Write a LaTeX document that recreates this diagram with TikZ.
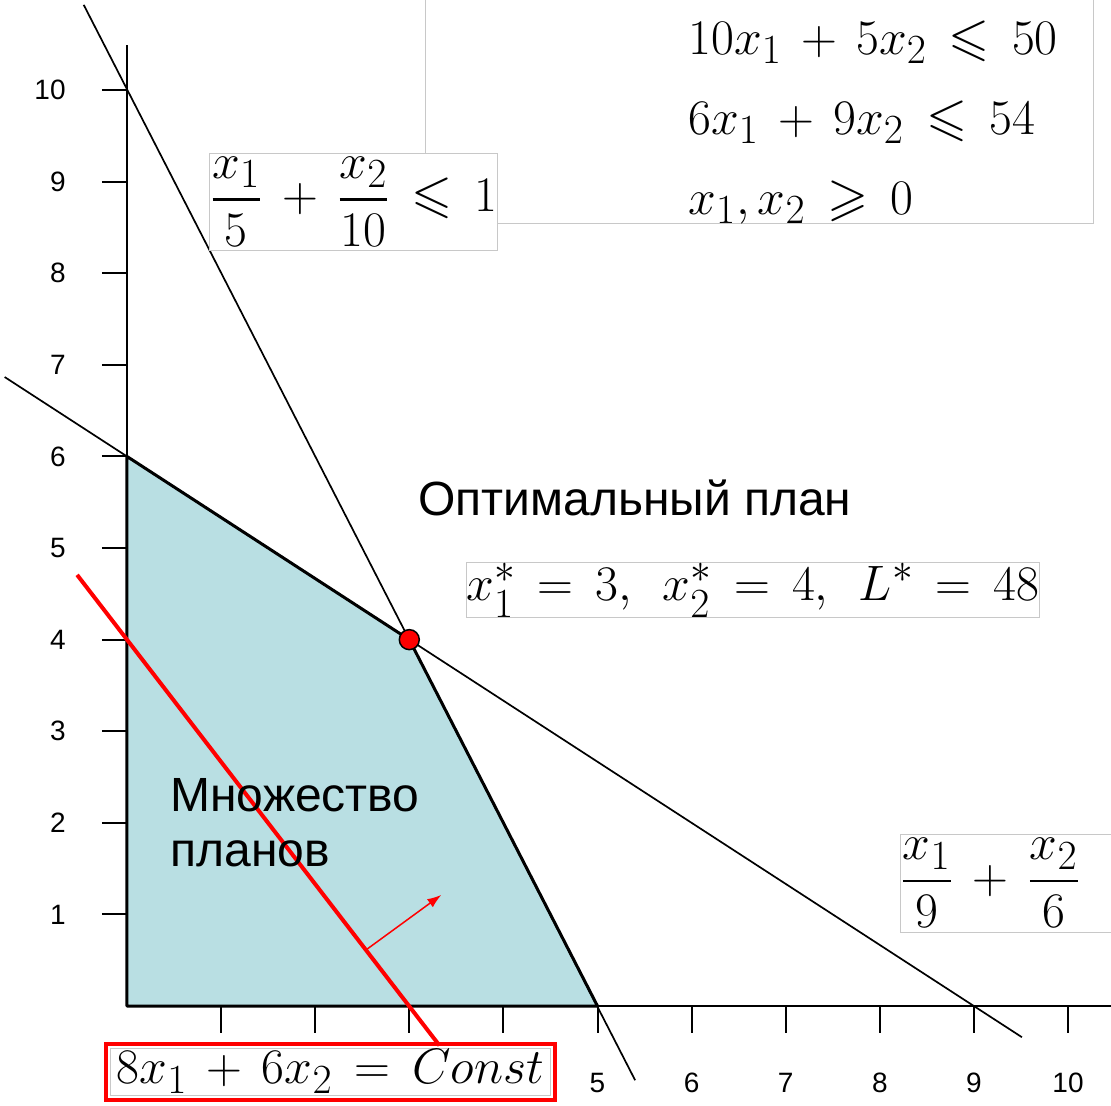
\documentclass[tikz,border=0pt]{standalone}
\usepackage{amsmath}
\usepackage{amssymb}
\usepackage{fontspec}
\newfontfamily\arialfont{Liberation Sans}
\usetikzlibrary{arrows.meta,positioning,fit}
\definecolor{planblue}{RGB}{185,223,227}
\definecolor{boxgray}{RGB}{200,200,200}
\DeclareMathSizes{26.4}{26.4}{22}{17}
\newcommand\eqfont{\fontsize{26.4}{30}\selectfont\medmuskip=7mu\relax\thickmuskip=8mu\relax}

\begin{document}
\begin{tikzpicture}[x=47.05pt,y=45.8pt,
   lim/.style={line width=0.85pt},
   ax/.style={line width=1pt},
   tk/.style={font=\arialfont\fontsize{14}{16}\selectfont,inner sep=0pt},
   lab/.style={font=\arialfont\fontsize{24}{27.5}\selectfont,inner sep=0pt,align=left},
   eq/.style={font=\eqfont,inner sep=0pt},
   eqbox/.style={eq,draw=boxgray,line width=0.5pt,fill=white}]
  \clip (-1.3496,-1.0808) rectangle (10.457,10.983);
  \fill[planblue] (0,0) -- (0,6) -- (3,4) -- (5,0) -- cycle;
  \draw[lim] (-0.46,10.93) -- (5.40,-0.81);
  \draw[lim] (-1.30,6.867) -- (9.51,-0.34);
  \draw[ax] (0,10.49) -- (0,0) -- (10.6,0);
  \foreach \k in {1,...,10} {
    \draw[ax] (-0.266,\k) -- (0,\k);
    \draw[ax] (\k,0) -- (\k,-0.295);
    \node[tk,anchor=east] (y\k) at (-0.648,\k) {\k};
  }
  \foreach \k in {5,...,10}
    \node[tk] (x\k) at (\k,-0.84) {\k};
  \draw[line width=1.5pt,line join=round] (0,0) -- (0,6) -- (3,4) -- (5,0) -- cycle;
  \draw[red,line width=2pt] (-0.53,4.707) -- (3.32,-0.43);
  \coordinate (g0) at (2.54,0.613);
  \coordinate (g1) at (3.34,1.213);
  \draw[red,line width=0.75pt,-{Latex[length=7pt,width=5pt]}] (g0) -- (g1);
  \node[circle,draw,fill=red,line width=0.75pt,minimum size=10pt,inner sep=0pt] (opt) at (3,4) {};
  \node[lab,anchor=base west] (optlab) at (3.09,5.36) {Оптимальный план};
  \node[eqbox,minimum width=286pt,minimum height=27pt] (optval) at (6.652,4.541)
       {$x_1^*=3,\; x_2^*=4,\; L^*=48$};
  \node[lab,anchor=north west] (setlab) at (0.457,2.489) {Множество\\планов};
  \draw[boxgray,line width=0.5pt] (3.167,8.548) rectangle (10.266,11.3);
  \node[eq,anchor=base west] (c1) at (5.962,10.393) {$10x_1+5x_2\leqslant 50$};
  \node[eq,anchor=base west] (c2) at (5.962,9.520) {$6x_1+9x_2\leqslant 54$};
  \node[eq,anchor=base west] (c3) at (5.962,8.646) {$x_1,x_2\geqslant 0$};
  \node[eqbox,minimum width=144pt,minimum height=48.5pt] (f1) at (2.412,8.783)
       {$\dfrac{x_1}{5}+\dfrac{x_2}{10}\leqslant 1$};
  \node[eqbox,anchor=west,minimum height=49pt,text width=120pt,align=left] (f2) at (8.215,1.343)
       {$\dfrac{x_1}{9}+\dfrac{x_2}{6}$};
  \node[eqbox,minimum width=220pt,minimum height=23.5pt] (objtxt) at (2.163,-0.715)
       {$8x_1+6x_2=Const$};
  \node[draw=red,line width=2pt,fit=(objtxt),inner sep=2pt] (objbox) {};
\end{tikzpicture}
\end{document}
